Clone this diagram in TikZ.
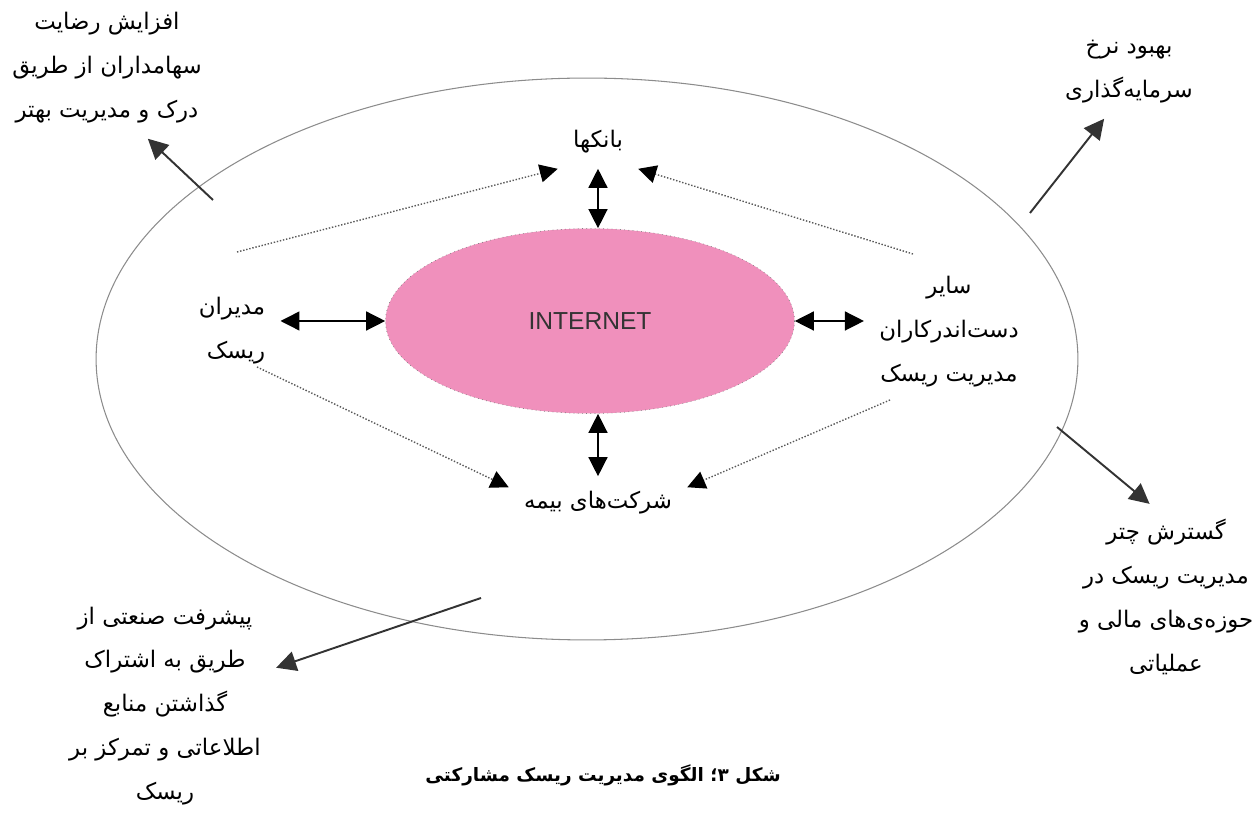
\documentclass[tikz,border=0pt]{standalone}
\usepackage{fontspec}
\usetikzlibrary{shapes.geometric,arrows.meta}
\setsansfont{Liberation Sans}
\newfontfamily\farsi[Script=Arabic]{DejaVu Sans}
\TeXXeTstate=1
\newcommand{\fa}[1]{\beginR #1\endR}
\definecolor{inetpink}{RGB}{240,144,188}

\begin{document}
\begin{tikzpicture}[x=0.02cm, y=-0.02cm,
    lbl/.style={font=\farsi\fontsize{13}{25}\selectfont, align=center, inner sep=0.3cm},
    captxt/.style={font=\farsi\bfseries\fontsize{10.5}{12}\selectfont, inner sep=2pt},
    outerell/.style={ellipse, draw=black!45, line width=0.6pt, minimum width=19.64cm, minimum height=11.24cm, inner sep=0pt},
    inetell/.style={ellipse, fill=inetpink, draw=black!50, dotted, minimum width=8.18cm, minimum height=3.7cm, inner sep=0pt,
                    font=\sffamily\fontsize{14}{16}\selectfont, text=black!80},
    dbl/.style={{Triangle[length=3.8mm,width=3.8mm]}-{Triangle[length=3.8mm,width=3.8mm]}, line width=0.8pt},
    dotarr/.style={-{Triangle[length=3.6mm,width=3.6mm,color=black]}, draw=black!65, densely dotted, line width=0.8pt},
    outarr/.style={-{Triangle[length=4mm,width=4mm]}, draw=black!80, line width=1.1pt}]
  \useasboundingbox (0,0) rectangle (1252,813);

  \node[outerell] (outer) at (587,359) {};
  \node[inetell] (inet) at (590,321) {INTERNET};

  \node[lbl] (bank) at (598,142) {\fa{بانکها}};
  \node[lbl] (ins) at (598,503) {\fa{شرکت^^^^200cهای بیمه}};
  \node[lbl, align=right] (mgr) at (232,331) {\fa{مدیران}\\\fa{ریسک}};
  \node[lbl] (oth) at (949,332) {\fa{سایر}\\\fa{دست^^^^200cاندرکاران}\\\fa{مدیریت ریسک}};

  \node[lbl] (tl) at (107,68) {\fa{افزایش رضایت}\\\fa{سهامداران از طریق}\\\fa{درک و مدیریت بهتر}};
  \node[lbl] (tr) at (1129,72) {\fa{بهبود نرخ}\\\fa{سرمایه^^^^200cگذاری}};
  \node[lbl] (br) at (1166,597) {\fa{گسترش چتر}\\\fa{مدیریت ریسک در}\\\fa{حوزه^^^^200cی^^^^200cهای مالی و}\\\fa{عملیاتی}};
  \node[lbl] (bl) at (165,706) {\fa{پیشرفت صنعتی از}\\\fa{طریق به اشتراک}\\\fa{گذاشتن منابع}\\\fa{اطلاعاتی و تمرکز بر}\\\fa{ریسک}};

  \node[captxt] (cap) at (603,775) {\fa{شکل ۳؛ الگوی مدیریت ریسک مشارکتی}};

  % links to the internet
  \draw[dbl] (bank) -- (bank |- inet.north);
  \draw[dbl] (ins) -- (ins |- inet.south);
  \draw[dbl] (inet.west) -- (inet.west -| mgr.east);
  \draw[dbl] (inet.east) -- (inet.east -| oth.west);

  % dotted links
  \coordinate (mgrtop) at (237,252);
  \coordinate (othtop) at (913,254);
  \coordinate (mgrbot) at (257,367);
  \coordinate (othbot) at (890,400);
  \draw[dotarr] (mgrtop) -- (bank.south west);
  \draw[dotarr] (othtop) -- (bank.south east);
  \draw[dotarr] (mgrbot) -- (ins.170);
  \draw[dotarr] (othbot) -- (ins.10);

  % outcomes
  \coordinate (tlstart) at (213,200);
  \coordinate (trstart) at (1030,213);
  \coordinate (brstart) at (1057,427);
  \coordinate (blstart) at (481,598);
  \draw[outarr] (tlstart) -- (tl.-60);
  \draw[outarr] (trstart) -- (tr.-118);
  \draw[outarr] (brstart) -- (br.100);
  \draw[outarr] (blstart) -- (bl.19);
\end{tikzpicture}
\end{document}
